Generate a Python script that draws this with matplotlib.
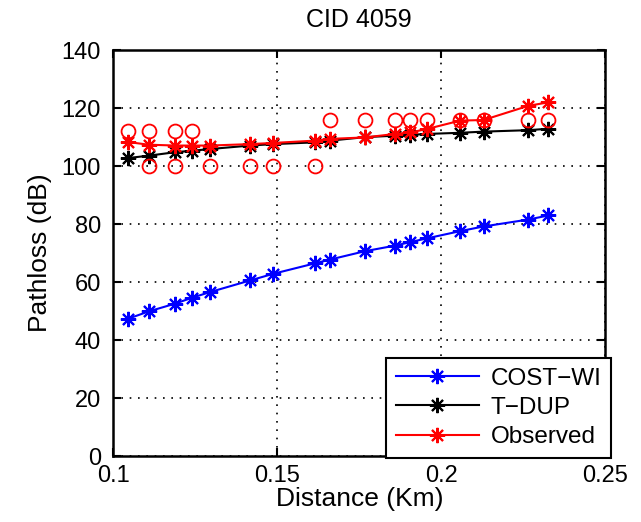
import numpy as np
import matplotlib
matplotlib.use("Agg")
from matplotlib import pyplot as plt

plt.rcParams['font.family'] = ['Liberation Sans', 'DejaVu Sans']

# distance of each measurement point (Km)
dist = [0.1045, 0.1107, 0.1188, 0.1239, 0.1295, 0.1417, 0.1488, 0.1615, 0.1661,
        0.1768, 0.1859, 0.1905, 0.1956, 0.2058, 0.2129, 0.2266, 0.2327]

cost_wi = [47.4, 49.9, 52.6, 54.6, 56.6, 60.6, 62.9, 66.5, 67.8,
           70.7, 72.6, 73.8, 75.1, 77.6, 79.2, 81.6, 83.0]
t_dup = [102.8, 103.6, 104.8, 105.3, 105.9, 107.1, 107.6, 108.2, 108.8,
         110.0, 110.5, 110.8, 111.1, 111.5, 111.9, 112.4, 112.9]
observed = [108.3, 107.4, 107.1, 107.1, 107.1, 107.6, 108.0, 108.8, 109.4,
            109.9, 111.1, 111.6, 112.8, 115.7, 115.9, 120.8, 122.0]

# raw measurements (circles): index into dist, value
raw_idx = [0, 1, 1, 2, 2, 3, 4, 5, 6, 7, 8, 9, 10, 11, 12, 13, 14, 15, 16]
raw_val = [112, 112, 100, 112, 100, 112, 100, 100, 100, 100,
           116, 116, 116, 116, 116, 116, 116, 116, 116]

fig = plt.figure(figsize=(6.41, 5.22), dpi=100)
ax = fig.add_axes([0.177, 0.126, 0.767, 0.778])

star = (8, 2, 0)
ax.plot(dist, cost_wi, color='blue', lw=1.5, marker=star, ms=11, mew=1.5, label='COST\u2212WI')
ax.plot(dist, t_dup, color='black', lw=1.5, marker=star, ms=11, mew=1.5, label='T\u2212DUP')
ax.plot(dist, observed, color='red', lw=1.5, marker=star, ms=11, mew=1.5, label='Observed')
ax.plot([dist[i] for i in raw_idx], raw_val, 'o', mfc='none', mec='red', ms=10, mew=1.3)

ax.set_xlim(0.1, 0.25)
ax.set_ylim(0, 140)
ax.set_xticks([0.1, 0.15, 0.2, 0.25])
ax.set_xticklabels(['0.1', '0.15', '0.2', '0.25'])
ax.set_yticks(range(0, 141, 20))
ax.grid(True, color='black', linestyle=(0, (1, 4)), lw=1.2)
ax.tick_params(direction='in', top=True, right=True, labelsize=17, length=6, width=1.5)
ax.tick_params(axis='y', pad=9)
ax.tick_params(axis='x', pad=6)
for s in ax.spines.values():
    s.set_linewidth(1.8)

ax.set_title('CID 4059', fontsize=18, pad=17)
ax.set_xlabel('Distance (Km)', fontsize=19, labelpad=0)
ax.set_ylabel('Pathloss (dB)', fontsize=19, labelpad=7)

leg = ax.legend(loc='lower right', bbox_to_anchor=(1.013, -0.004), borderaxespad=0,
                fontsize=17.5, numpoints=1, handlelength=3.4, handletextpad=0.5,
                fancybox=False, framealpha=1, edgecolor='black', borderpad=0.4,
                labelspacing=0.3)
leg.get_frame().set_linewidth(1.5)

fig.savefig('out.png', dpi=100)
